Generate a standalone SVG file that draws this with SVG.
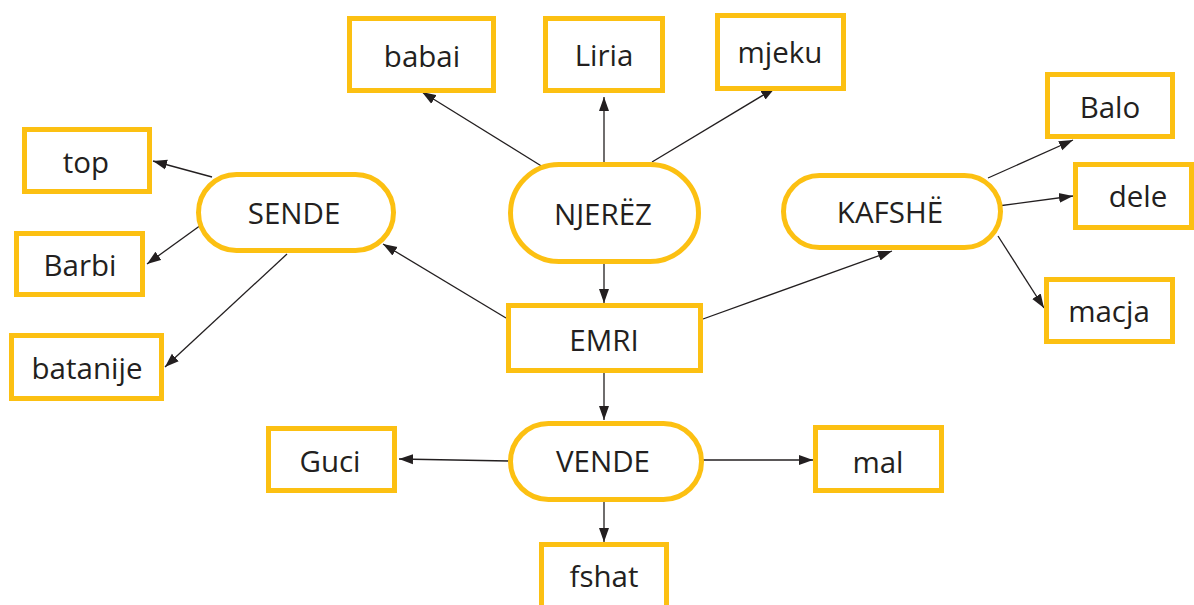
<svg xmlns="http://www.w3.org/2000/svg" width="1194" height="605" viewBox="0 0 1194 605">
<style>
.box{fill:#fff;stroke:#FCC012;stroke-width:5}
.t{font-family:"Open Sans","Noto Sans",sans-serif;font-size:29.5px;fill:#231f20;text-anchor:middle}
.c{stroke:#231f20;stroke-width:1.3;fill:none;marker-end:url(#ah)}
</style>
<defs>
<marker id="ah" markerUnits="userSpaceOnUse" markerWidth="15" markerHeight="11" refX="14" refY="5.5" orient="auto">
<path d="M0,0.5 L14,5.5 L0,10.5 Z" fill="#231f20"/>
</marker>
</defs>
<rect width="1194" height="605" fill="#fff"/>
<g id="connectors">
<line class="c" x1="543" y1="167" x2="422" y2="92"/>
<line class="c" x1="604" y1="165" x2="604" y2="97"/>
<line class="c" x1="652" y1="162" x2="775" y2="88"/>
<line class="c" x1="604" y1="264" x2="604" y2="303"/>
<line class="c" x1="506" y1="318" x2="383" y2="244"/>
<line class="c" x1="703" y1="319" x2="892" y2="251"/>
<line class="c" x1="604" y1="373" x2="604" y2="420"/>
<line class="c" x1="212" y1="177" x2="153" y2="161"/>
<line class="c" x1="201" y1="225" x2="147" y2="264"/>
<line class="c" x1="287" y1="254" x2="165" y2="367"/>
<line class="c" x1="988" y1="178" x2="1073" y2="140"/>
<line class="c" x1="998" y1="206" x2="1073" y2="196"/>
<line class="c" x1="998" y1="236" x2="1044" y2="308"/>
<line class="c" x1="509" y1="461" x2="399" y2="459"/>
<line class="c" x1="703" y1="460" x2="813" y2="460"/>
<line class="c" x1="604" y1="502" x2="604" y2="542"/>
</g>
<g id="babai"><rect class="box" x="349.5" y="18.5" width="144" height="72"/><text class="t" x="422" y="67">babai</text></g>
<g id="liria"><rect class="box" x="545.5" y="18.5" width="117" height="72"/><text class="t" x="604" y="66">Liria</text></g>
<g id="mjeku"><rect class="box" x="717.5" y="15.5" width="126" height="73"/><text class="t" x="780" y="63">mjeku</text></g>
<g id="njerez"><rect class="box" x="510.5" y="164.5" width="188" height="97" rx="48.5"/><text class="t" x="603" y="225">NJERËZ</text></g>
<g id="sende"><rect class="box" x="198.5" y="174.5" width="195" height="76" rx="38"/><text class="t" x="294" y="224">SENDE</text></g>
<g id="top"><rect class="box" x="24.5" y="129.5" width="125" height="62"/><text class="t" x="86" y="173">top</text></g>
<g id="barbi"><rect class="box" x="16.5" y="233.5" width="126" height="61"/><text class="t" x="80" y="276">Barbi</text></g>
<g id="batanije"><rect class="box" x="11.5" y="335.5" width="150" height="63"/><text class="t" x="87" y="379">batanije</text></g>
<g id="kafshe"><rect class="box" x="783.5" y="175.5" width="217" height="72" rx="36"/><text class="t" x="890" y="223">KAFSHË</text></g>
<g id="balo"><rect class="box" x="1047.5" y="74.5" width="125" height="62"/><text class="t" x="1110" y="118">Balo</text></g>
<g id="dele"><rect class="box" x="1075.5" y="164.5" width="116" height="63"/><text class="t" x="1138" y="207">dele</text></g>
<g id="macja"><rect class="box" x="1046.5" y="279.5" width="126" height="62"/><text class="t" x="1109" y="322">macja</text></g>
<g id="emri"><rect class="box" x="508.5" y="305.5" width="192" height="65"/><text class="t" x="604" y="351">EMRI</text></g>
<g id="vende"><rect class="box" x="510.5" y="423.5" width="191" height="76" rx="38"/><text class="t" x="603" y="472">VENDE</text></g>
<g id="guci"><rect class="box" x="268.5" y="428.5" width="126" height="62"/><text class="t" x="330" y="472">Guci</text></g>
<g id="mal"><rect class="box" x="815.5" y="427.5" width="126" height="63"/><text class="t" x="878" y="473">mal</text></g>
<g id="fshat"><rect class="box" x="541.5" y="544.5" width="125" height="70"/><text class="t" x="604" y="587">fshat</text></g>
</svg>
